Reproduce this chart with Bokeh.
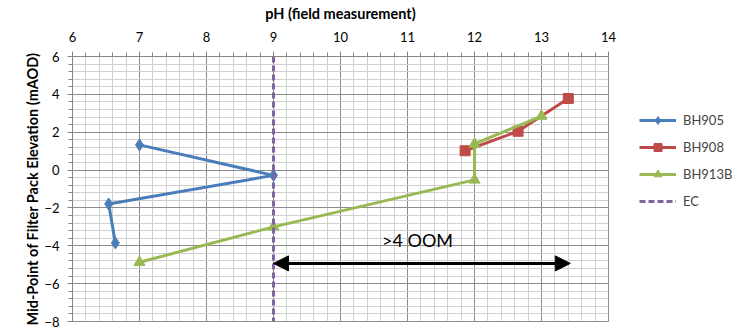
from bokeh.plotting import figure
from bokeh.models import (Range1d, SingleIntervalTicker, Legend, LegendItem, Arrow,
                          NormalHead, Label)
from bokeh.embed import file_html
from bokeh.resources import INLINE

# ---- data ----
bh905_x = [7.0, 9.0, 6.54, 6.64]
bh905_y = [1.33, -0.28, -1.79, -3.85]
bh908_x = [11.86, 12.65, 13.40]
bh908_y = [1.02, 2.05, 3.78]
bh913b_x = [13.0, 12.0, 12.0, 9.0, 7.0]
bh913b_y = [2.85, 1.38, -0.52, -3.0, -4.87]
ec_x = [9.0, 9.0]
ec_y = [6.0, -8.0]
series_names = ["BH905", "BH908", "BH913B", "EC"]
arrow_x = [9.0, 13.43]
arrow_y = -4.93
note_text = ">4 OOM"
note_x = 10.62
note_y = -4.25

FONT = "Lato"
BLUE, RED, GREEN, PURPLE = "#4A7EBB", "#BE4B48", "#98B954", "#8064A2"

p = figure(frame_width=536, frame_height=265, output_backend="svg", toolbar_location=None,
           x_range=Range1d(6, 14), y_range=Range1d(-8, 6),
           x_axis_location="above", y_axis_location="left",
           min_border_left=72, min_border_right=140, min_border_top=56, min_border_bottom=9)
p.outline_line_color = "#8C8C8C"
p.background_fill_color = "white"
p.border_fill_color = "white"

xt = SingleIntervalTicker(interval=1, num_minor_ticks=5)
yt = SingleIntervalTicker(interval=2, num_minor_ticks=5)
p.xaxis.ticker = xt
p.yaxis.ticker = yt
p.xgrid.ticker = xt
p.ygrid.ticker = yt
for g in (p.xgrid, p.ygrid):
    g.grid_line_color = "#8C8C8C"
    g.grid_line_width = 1
    g.minor_grid_line_color = "#D0D0D0"
    g.minor_grid_line_width = 1

for ax in (p.xaxis, p.yaxis):
    ax.axis_line_color = "#868686"
    ax.major_tick_line_color = "#868686"
    ax.minor_tick_line_color = "#868686"
    ax.major_tick_out = 5
    ax.major_tick_in = 0
    ax.minor_tick_out = 4
    ax.minor_tick_in = 0
    ax.major_label_text_font = FONT
    ax.major_label_text_font_size = "13px"
    ax.major_label_text_color = "#000000"
    ax.axis_label_text_font = FONT
    ax.axis_label_text_font_style = "bold"
    ax.axis_label_text_font_size = "14.5px"
    ax.axis_label_text_color = "#000000"

p.xaxis.axis_label = "pH (field measurement)"
p.xaxis.major_label_standoff = 10
p.xaxis.axis_label_standoff = 7
p.yaxis.axis_label = "Mid-Point of Filter Pack Elevation (mAOD)"
p.yaxis.major_label_standoff = 8
p.yaxis.axis_label_standoff = 0

r1 = p.line(bh905_x, bh905_y, line_color=BLUE, line_width=3)
m1 = p.scatter(bh905_x, bh905_y, marker="diamond", size=12, color=BLUE)
r2 = p.line(bh908_x, bh908_y, line_color=RED, line_width=3)
m2 = p.scatter(bh908_x, bh908_y, marker="square", size=10, color=RED)
r3 = p.line(bh913b_x, bh913b_y, line_color=GREEN, line_width=3)
m3 = p.scatter(bh913b_x, bh913b_y, marker="triangle", size=11, color=GREEN)
r4 = p.line(ec_x, ec_y, line_color=PURPLE, line_width=3, line_dash="6 3")

arr = Arrow(x_start=arrow_x[0], y_start=arrow_y, x_end=arrow_x[1], y_end=arrow_y,
            line_color="black", line_width=3,
            start=NormalHead(size=15, fill_color="black", line_color="black"),
            end=NormalHead(size=15, fill_color="black", line_color="black"))
p.add_layout(arr)
p.add_layout(Label(x=note_x, y=note_y, text=note_text, text_font=FONT,
                   text_font_size="18px", text_color="black"))

legend = Legend(items=[LegendItem(label=series_names[0], renderers=[r1, m1]),
                       LegendItem(label=series_names[1], renderers=[r2, m2]),
                       LegendItem(label=series_names[2], renderers=[r3, m3]),
                       LegendItem(label=series_names[3], renderers=[r4])],
                location=(31, 110), padding=0, margin=0, spacing=7,
                glyph_width=37, glyph_height=20, label_standoff=7,
                label_text_font=FONT, label_text_font_size="13px",
                border_line_color=None, background_fill_alpha=0)
p.add_layout(legend, "right")

open("out.html", "w").write(file_html(p, INLINE))
